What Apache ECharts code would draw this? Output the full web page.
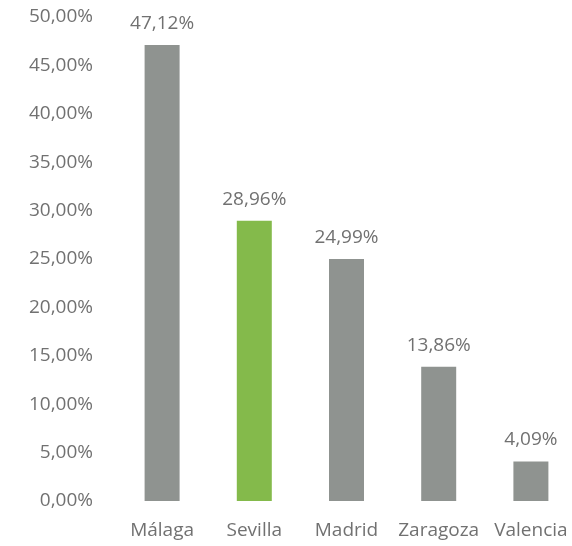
<!DOCTYPE html>
<html>
<head>
<meta charset="utf-8">
<script src="https://cdn.jsdelivr.net/npm/echarts@6/dist/echarts.min.js"></script>
<style>
  html, body { margin: 0; padding: 0; background: #fff; }
  #chart { width: 572px; height: 546px; }
</style>
</head>
<body>
<div id="chart"></div>
<script>
const categories = ['Málaga', 'Sevilla', 'Madrid', 'Zaragoza', 'Valencia'];
const values = [47.12, 28.96, 24.99, 13.86, 4.09];
const highlight = 'Sevilla';

const fmt = v => v.toFixed(2).replace('.', ',') + '%';
const textColor = '#717171';
const font = 'Open Sans';

const chart = echarts.init(document.getElementById('chart'));
chart.setOption({
  animation: false,
  grid: { left: 116, width: 461, top: 17, bottom: 45, outerBoundsMode: 'none' },
  xAxis: {
    type: 'category',
    data: categories,
    axisLine: { show: false },
    axisTick: { show: false },
    axisLabel: { color: textColor, fontSize: 19, fontFamily: font, margin: 20, interval: 0 }
  },
  yAxis: {
    type: 'value',
    min: 0,
    max: 50,
    interval: 5,
    splitLine: { show: false },
    axisLine: { show: false },
    axisTick: { show: false },
    axisLabel: {
      color: textColor, fontSize: 19, fontFamily: font, margin: 23,
      formatter: v => fmt(v)
    }
  },
  series: [{
    type: 'bar',
    barWidth: 35,
    data: values.map((v, i) => ({
      value: v,
      itemStyle: { color: categories[i] === highlight ? '#84ba4b' : '#8f9390' }
    })),
    label: {
      show: true,
      position: 'top',
      distance: 12,
      color: textColor,
      fontSize: 19,
      fontFamily: font,
      formatter: p => fmt(p.value)
    }
  }]
});
</script>
</body>
</html>
